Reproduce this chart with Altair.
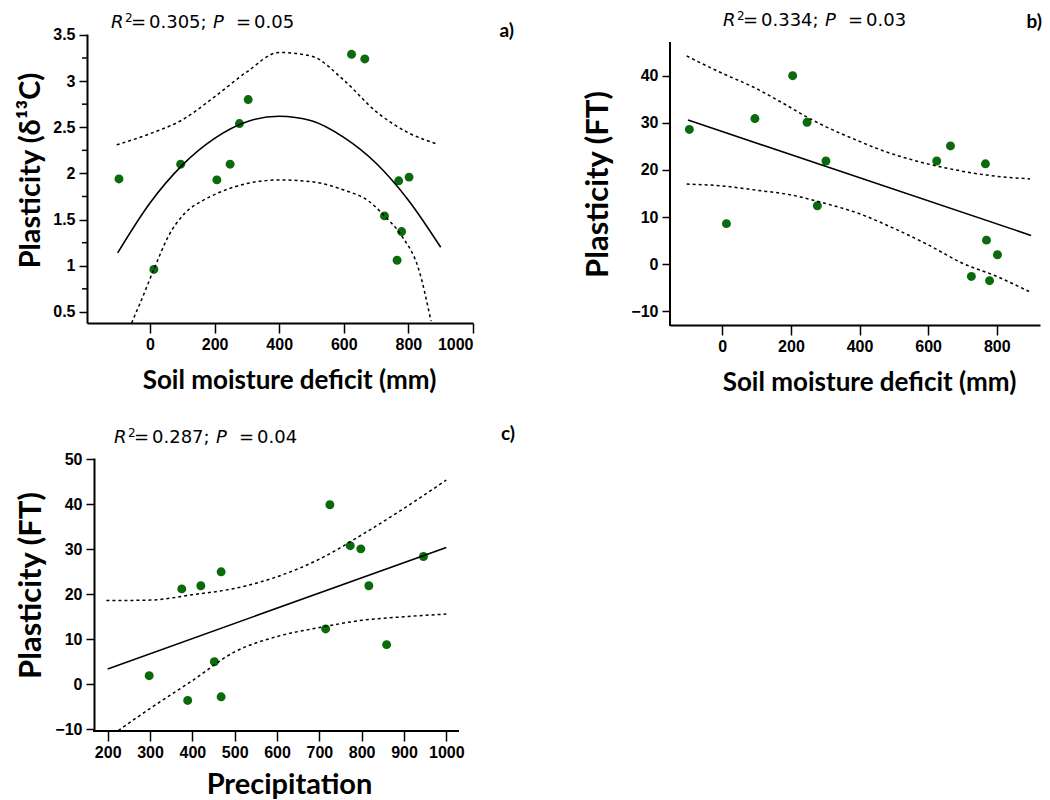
import altair as alt
import pandas as pd

# ---------------- Panel a ----------------
a_smd = [-96, 12, 95, 207, 248, 277, 304, 624, 665, 726, 770, 802, 779, 765]
a_plast = [1.94, 0.96, 2.10, 1.93, 2.10, 2.54, 2.80, 3.29, 3.24, 1.54, 1.92, 1.96, 1.37, 1.06]
a_fit_x = [-100, 0, 100, 200, 300, 400, 500, 600, 700, 800, 900]
a_fit_y = [1.14, 1.68, 2.09, 2.38, 2.56, 2.62, 2.57, 2.39, 2.11, 1.71, 1.20]
a_up_x = [-103, 0, 100, 200, 300, 400, 500, 600, 700, 800, 888]
a_up_y = [2.31, 2.43, 2.58, 2.83, 3.10, 3.31, 3.27, 3.01, 2.67, 2.44, 2.32]
a_lo_x = [-57, -30, 12, 57, 108, 160, 212, 300, 400, 500, 600, 677, 726, 780, 832, 870]
a_lo_y = [0.38, 0.60, 0.96, 1.32, 1.57, 1.70, 1.79, 1.89, 1.93, 1.91, 1.82, 1.70, 1.54, 1.32, 0.96, 0.40]
a_minor = [0.75, 1.25, 1.75, 2.25, 2.75, 3.25]

# ---------------- Panel b ----------------
b_smd = [-96, 12, 95, 205, 247, 277, 302, 625, 665, 726, 767, 770, 802, 779]
b_plast = [28.6, 8.6, 30.9, 40.0, 30.1, 12.4, 21.9, 21.9, 25.1, -2.6, 21.3, 5.1, 2.0, -3.5]
b_fit_x = [-100, 900]
b_fit_y = [30.6, 6.1]
b_up_x = [-104, 0, 90, 188, 247, 304, 382, 479, 576, 673, 771, 897]
b_up_y = [44.2, 40.5, 37.6, 33.7, 31.2, 29.1, 26.6, 23.8, 21.7, 20.1, 18.9, 18.1]
b_lo_x = [-104, 0, 100, 200, 300, 400, 500, 600, 700, 800, 894]
b_lo_y = [17.0, 16.6, 15.7, 14.7, 12.9, 10.7, 7.6, 4.1, 0.2, -2.6, -5.8]

# ---------------- Panel c ----------------
c_precip = [298, 389, 375, 420, 468, 452, 468, 715, 725, 773, 798, 817, 859, 946]
c_plast = [1.9, -3.6, 21.2, 21.9, 25.0, 5.0, -2.8, 12.3, 39.9, 30.8, 30.1, 21.9, 8.8, 28.4]
c_fit_x = [200, 1000]
c_fit_y = [3.4, 30.4]
c_up_x = [197, 300, 400, 500, 600, 700, 800, 900, 1000]
c_up_y = [18.6, 18.7, 19.9, 21.3, 23.9, 27.8, 33.2, 39.1, 45.4]
c_lo_x = [225, 300, 400, 500, 600, 700, 800, 900, 1000]
c_lo_y = [-10.3, -5.4, 0.8, 7.2, 10.6, 12.6, 14.2, 15.0, 15.6]

GREEN = "#0b6a0b"
TITLE_FONT = "Lato"
LABEL_FONT = "Liberation Sans"
ANN_FONT = "DejaVu Sans"
one = pd.DataFrame({"k": [0]})


def df(x, y):
    return pd.DataFrame({"x": x, "y": y})


def annotation(r2, p, x0, y0, tag, tag_x, tag_y):
    parts = [
        ("R", 0, 0, "italic", 18),
        ("2", 14, -6, "normal", 12),
        ("=", 20, 0, "normal", 18),
        (r2 + ";", 38, 0, "normal", 18),
        ("P", 102, 0, "italic", 18),
        ("=", 125, 0, "normal", 18),
        (p, 143, 0, "normal", 18),
    ]
    layers = []
    for txt, dx, dy, style, size in parts:
        layers.append(
            alt.Chart(one).mark_text(
                text=txt, align="left", baseline="alphabetic", font=ANN_FONT,
                fontSize=size, fontStyle=style, color="black"
            ).encode(x=alt.value(x0 + dx), y=alt.value(y0 + dy))
        )
    layers.append(
        alt.Chart(one).mark_text(
            text=tag, align="right", baseline="alphabetic", font=TITLE_FONT,
            fontSize=19, fontWeight="bold", color="black"
        ).encode(x=alt.value(tag_x), y=alt.value(tag_y))
    )
    return layers


def spacer(x, x2, y, y2):
    # invisible element that reserves room for text ascenders at the page edge
    return alt.Chart(one).mark_rule(opacity=0, strokeWidth=1).encode(
        x=alt.value(x), x2=alt.value(x2), y=alt.value(y), y2=alt.value(y2))


def panel(px, py, fx, fy, ux, uy, lx, ly, xscale, yscale, xaxis, yaxis, extra, w, h):
    X = alt.X("x:Q", scale=xscale, axis=xaxis)
    Y = alt.Y("y:Q", scale=yscale, axis=yaxis)
    pts = alt.Chart(df(px, py)).mark_circle(size=80, color=GREEN, opacity=1).encode(x=X, y=Y)
    fit = alt.Chart(df(fx, fy)).mark_line(color="black", strokeWidth=1.6, clip=True,
                                          interpolate="monotone").encode(x="x:Q", y="y:Q")
    up = alt.Chart(df(ux, uy)).mark_line(color="black", strokeWidth=1.5, strokeDash=[3, 3],
                                         clip=True, interpolate="monotone").encode(x="x:Q", y="y:Q")
    lo = alt.Chart(df(lx, ly)).mark_line(color="black", strokeWidth=1.5, strokeDash=[3, 3],
                                         clip=True, interpolate="monotone").encode(x="x:Q", y="y:Q")
    return alt.layer(pts, fit, up, lo, *extra).properties(width=w, height=h)


def xax(values, title, tx, ty, size=26, domain=True):
    return alt.Axis(values=values, title=title, grid=False, domain=domain, domainColor="black",
                    domainWidth=2, tickColor="black", tickWidth=1.5, tickSize=10,
                    labelFont=LABEL_FONT, labelFontWeight="bold", labelFontSize=16,
                    labelColor="black", labelPadding=3, format="d",
                    titleFont=TITLE_FONT, titleFontWeight="bold", titleFontSize=size,
                    titleColor="black", titleX=tx, titleY=ty, titleAlign="center",
                    titleBaseline="alphabetic")


def yax(values, title, tx, ty, fmt="d", size=29, domain=True, offset=0):
    return alt.Axis(values=values, title=title, grid=False, domain=domain, domainColor="black",
                    domainWidth=2, tickColor="black", tickWidth=1.5, tickSize=8,
                    labelFont=LABEL_FONT, labelFontWeight="bold", labelFontSize=16,
                    labelColor="black", labelPadding=4, format=fmt, offset=offset,
                    titleFont=TITLE_FONT, titleFontWeight="bold", titleFontSize=size,
                    titleColor="black", titleX=tx, titleY=ty, titleAlign="center",
                    titleBaseline="alphabetic", titleAngle=-90)


# ---- panel a ----
AW, AH = 386, 289
minor_a = alt.Chart(pd.DataFrame({"y": a_minor})).mark_rule(color="black", strokeWidth=1.5).encode(
    x=alt.value(-5), x2=alt.value(0), y="y:Q")
chart_a = panel(
    a_smd, a_plast, a_fit_x, a_fit_y, a_up_x, a_up_y, a_lo_x, a_lo_y,
    alt.Scale(domain=[-195, 1000], nice=False, zero=False),
    alt.Scale(domain=[0.38, 3.51], nice=False, zero=False),
    xax([0, 200, 400, 600, 800, 1000], "Soil moisture deficit (mm)", 202, 65),
    yax([0.5, 1, 1.5, 2, 2.5, 3, 3.5], "Plasticity (δ¹³C)", -48, 136, fmt=".1~f"),
    [minor_a, spacer(-79, -78, 140, 141)] + annotation("0.305", "0.05", 24, -6, "a)", 427, 3),
    AW, AH,
)

# ---- panel b ----
BW, BH = 370, 291
b_axis_line = alt.Chart(one).mark_rule(color="black", strokeWidth=2).encode(
    x=alt.value(0), y=alt.value(8), y2=alt.value(BH + 1))
chart_b = panel(
    b_smd, b_plast, b_fit_x, b_fit_y, b_up_x, b_up_y, b_lo_x, b_lo_y,
    alt.Scale(domain=[-152.5, 926], nice=False, zero=False),
    alt.Scale(domain=[-12.91, 48.85], nice=False, zero=False),
    xax([0, 200, 400, 600, 800], "Soil moisture deficit (mm)", 199, 65),
    yax([-10, 0, 10, 20, 30, 40], "Plasticity (FT)", -63, 150, size=31, domain=False),
    [b_axis_line, spacer(100, 101, -26, -25)]
    + annotation("0.334", "0.03", 53, -8, "b)", 372, -6),
    BW, BH,
)

# ---- panel c ----
CW, CH = 372, 273
c_axis_line = alt.Chart(one).mark_rule(color="black", strokeWidth=2).encode(
    x=alt.value(6), x2=alt.value(CW), y=alt.value(CH))
chart_c = panel(
    c_precip, c_plast, c_fit_x, c_fit_y, c_up_x, c_up_y, c_lo_x, c_lo_y,
    alt.Scale(domain=[151.1, 1030], nice=False, zero=False),
    alt.Scale(domain=[-10.4, 50.3], nice=False, zero=False),
    xax([200, 300, 400, 500, 600, 700, 800, 900, 1000], "Precipitation", 202, 62,
        size=29, domain=False),
    yax([-10, 0, 10, 20, 30, 40, 50], "Plasticity (FT)", -54, 127, size=31, offset=-7),
    [c_axis_line] + annotation("0.287", "0.04", 27, -15, "c)", 428, -18),
    CW, CH,
)

chart = alt.concat(
    chart_a, chart_b, chart_c, columns=2,
    spacing={"row": 133, "column": 197}, bounds="flush", align="all",
).properties(padding=0, background="white").configure_view(stroke=None)

chart.save("out.html", embed_options={"renderer": "svg", "actions": False})
